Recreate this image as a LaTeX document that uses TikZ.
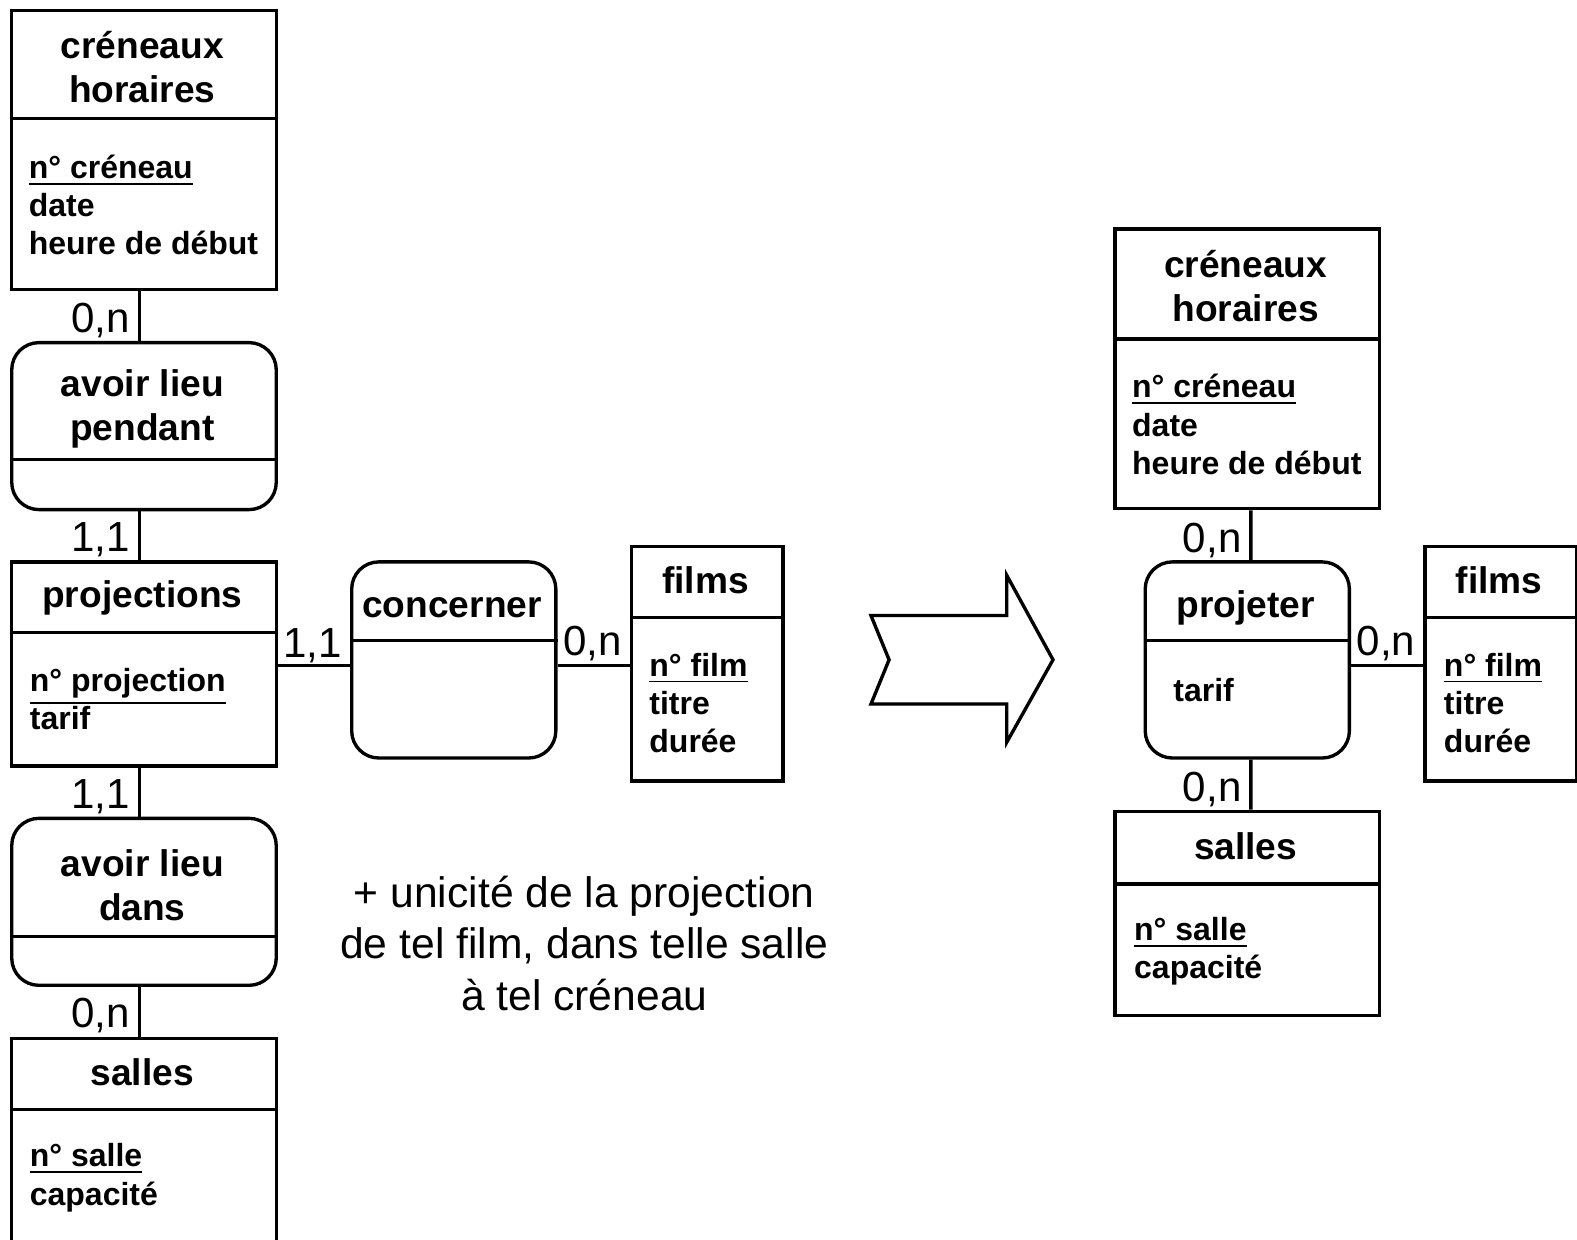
\documentclass[tikz,border=0pt]{standalone}
\usepackage{fontspec}
\setmainfont{Liberation Sans}
\begin{document}
\begin{tikzpicture}[ent/.style={draw=black, rectangle, inner sep=0cm, line width=0.95pt, anchor=north west},
rel/.style={ent, rounded corners=0.27cm},
lnk/.style={draw=black, line width=0.95pt},
ttl/.style={font=\bfseries\fontsize{10.5}{12.5}\selectfont, align=center, inner sep=0cm},
att/.style={font=\bfseries\fontsize{9.05}{10.8}\selectfont, align=left, anchor=west, inner sep=0cm},
card/.style={font=\fontsize{11.9}{14}\selectfont, inner sep=0cm}]
\useasboundingbox (0,0) rectangle (15.68,-12.32);
\node[ent, minimum width=2.63cm, minimum height=2.77cm] at (0.10,-0.09) (ch1) {};
\node[rel, minimum width=2.63cm, minimum height=1.66cm] at (0.10,-3.39) (alp) {};
\node[ent, minimum width=2.63cm, minimum height=2.03cm] at (0.10,-5.57) (proj) {};
\node[rel, minimum width=2.63cm, minimum height=1.66cm] at (0.10,-8.12) (ald) {};
\node[ent, minimum width=2.63cm, minimum height=2.30cm] at (0.10,-10.31) (sal1) {};
\node[rel, minimum width=2.03cm, minimum height=1.95cm] at (3.48,-5.57) (conc) {};
\node[ent, minimum width=1.51cm, minimum height=2.33cm] at (6.26,-5.42) (film1) {};
\draw[lnk] (ch1.west |- 0,-1.18) -- (ch1.east |- 0,-1.18);
\draw[lnk] (alp.west |- 0,-4.57) -- (alp.east |- 0,-4.57);
\draw[lnk] (proj.west |- 0,-6.29) -- (proj.east |- 0,-6.29);
\draw[lnk] (ald.west |- 0,-9.31) -- (ald.east |- 0,-9.31);
\draw[lnk] (sal1.west |- 0,-11.03) -- (sal1.east |- 0,-11.03);
\draw[lnk] (conc.west |- 0,-6.37) -- (conc.east |- 0,-6.37);
\draw[lnk] (film1.west |- 0,-6.14) -- (film1.east |- 0,-6.14);
\node[ttl] at (1.415,-0.67) (ch1t) {créneaux\\horaires};
\node[att] at (0.28,-2.04) (ch1a) {\underline{n° créneau}\\date\\heure de début};
\node[ttl] at (1.415,-4.065) (alpt) {avoir lieu\\pendant};
\node[ttl] at (1.415,-5.94) (projt) {projections};
\node[att] at (0.29,-6.95) (proja) {\underline{n° projection}\\tarif};
\node[ttl] at (1.415,-8.80) (aldt) {avoir lieu\\dans};
\node[ttl] at (1.415,-10.66) (sal1t) {salles};
\node[att] at (0.29,-11.71) (sal1a) {\underline{n° salle}\\capacité};
\node[ttl] at (4.495,-6.04) (conct) {concerner};
\node[ttl] at (7.015,-5.77) (film1t) {films};
\node[att] at (6.45,-6.99) (film1a) {\underline{n° film}\\titre\\durée};
\draw[lnk] ([xshift=-0.045cm]ch1.south) -- ([xshift=-0.045cm]alp.north);
\draw[lnk] ([xshift=-0.045cm]alp.south) -- ([xshift=-0.045cm]proj.north);
\draw[lnk] ([xshift=-0.045cm]proj.south) -- ([xshift=-0.045cm]ald.north);
\draw[lnk] ([xshift=-0.045cm]ald.south) -- ([xshift=-0.045cm]sal1.north);
\draw[lnk] (proj.east |- 0,-6.62) -- (conc.west |- 0,-6.62);
\draw[lnk] (conc.east |- 0,-6.62) -- (film1.west |- 0,-6.62);
\node[card, anchor=east] at (1.30,-3.19) (k1) {0,n};
\node[card, anchor=east] at (1.30,-5.37) (k2) {1,1};
\node[card, anchor=east] at (1.30,-7.92) (k3) {1,1};
\node[card, anchor=east] at (1.30,-10.10) (k4) {0,n};
\node[card] at (3.11,-6.42) (k5) {1,1};
\node[card] at (5.89,-6.40) (k6) {0,n};
\node[font=\fontsize{12.06}{14.65}\selectfont, align=center, inner sep=0cm] at (5.81,-9.38) (note) {+ unicité de la projection\\de tel film, dans telle salle\\à tel créneau};
\draw[line width=0.95pt, line join=miter] (8.66,-6.12) -- (10.01,-6.12) -- (10.01,-5.72) -- (10.47,-6.56) -- (10.01,-7.38) -- (10.01,-7.00) -- (8.66,-7.00) -- (8.84,-6.56) -- cycle;
\node[ent, minimum width=2.63cm, minimum height=2.78cm] at (11.07,-2.26) (ch2) {};
\node[rel, minimum width=2.03cm, minimum height=1.95cm] at (11.37,-5.57) (proj2) {};
\node[ent, minimum width=1.51cm, minimum height=2.33cm] at (14.15,-5.42) (film2) {};
\node[ent, minimum width=2.63cm, minimum height=2.03cm] at (11.07,-8.05) (sal2) {};
\draw[lnk] (ch2.west |- 0,-3.37) -- (ch2.east |- 0,-3.37);
\draw[lnk] (proj2.west |- 0,-6.37) -- (proj2.east |- 0,-6.37);
\draw[lnk] (film2.west |- 0,-6.14) -- (film2.east |- 0,-6.14);
\draw[lnk] (sal2.west |- 0,-8.79) -- (sal2.east |- 0,-8.79);
\node[ttl] at (12.385,-2.845) (ch2t) {créneaux\\horaires};
\node[att] at (11.25,-4.22) (ch2a) {\underline{n° créneau}\\date\\heure de début};
\node[ttl] at (12.385,-6.04) (proj2t) {projeter};
\node[att] at (11.66,-6.86) (proj2a) {tarif};
\node[ttl] at (14.905,-5.77) (film2t) {films};
\node[att] at (14.35,-6.99) (film2a) {\underline{n° film}\\titre\\durée};
\node[ttl] at (12.385,-8.41) (sal2t) {salles};
\node[att] at (11.27,-9.46) (sal2a) {\underline{n° salle}\\capacité};
\draw[lnk] ([xshift=0.035cm]ch2.south) -- ([xshift=0.035cm]proj2.north);
\draw[lnk] ([xshift=0.035cm]proj2.south) -- ([xshift=0.035cm]sal2.north);
\draw[lnk] (proj2.east |- 0,-6.62) -- (film2.west |- 0,-6.62);
\node[card, anchor=east] at (12.35,-5.37) (k7) {0,n};
\node[card, anchor=east] at (12.35,-7.85) (k8) {0,n};
\node[card] at (13.78,-6.40) (k9) {0,n};
\end{tikzpicture}
\end{document}
